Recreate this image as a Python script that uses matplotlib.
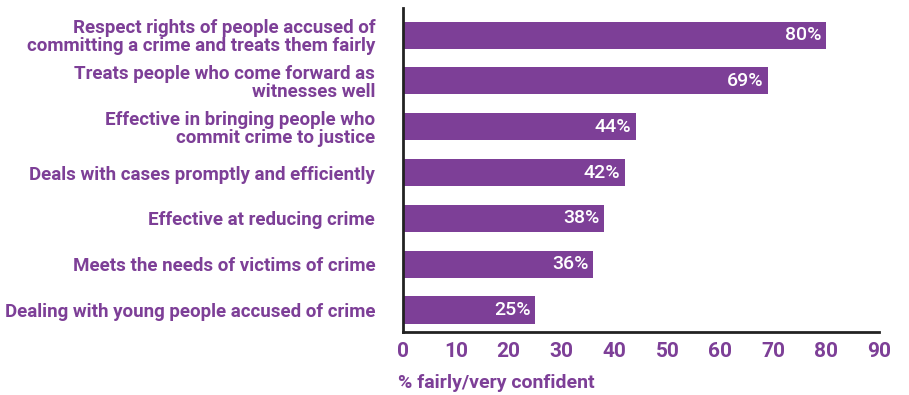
import matplotlib
matplotlib.use("Agg")
import matplotlib.pyplot as plt

# survey items, top to bottom as shown on the chart
labels = [
    "Respect rights of people accused of\ncommitting a crime and treats them fairly",
    "Treats people who come forward as\nwitnesses well",
    "Effective in bringing people who\ncommit crime to justice",
    "Deals with cases promptly and efficiently",
    "Effective at reducing crime",
    "Meets the needs of victims of crime",
    "Dealing with young people accused of crime",
]
values = [80, 69, 44, 42, 38, 36, 25]
xticks = [0, 10, 20, 30, 40, 50, 60, 70, 80, 90]

purple = "#7d3f97"
plt.rcParams['font.family'] = ['Roboto', 'Liberation Sans', 'DejaVu Sans']

fig = plt.figure(figsize=(9.09, 3.95), dpi=100)
ax = fig.add_axes([0.4433, 0.1595, 0.967 - 0.4433, 0.9797 - 0.1595])

# bottom-up positions so the first item sits on top
ypos = list(range(len(values)))[::-1]
ax.barh(ypos, values, height=0.59, color=purple)

for y, v in zip(ypos, values):
    ax.text(v - 0.9, y, f"{v}%", color="white", fontsize=14,
            fontweight="medium", ha="right", va="center")

ax.set_xlim(0, 90)
ax.set_ylim(-0.48, 6.59)
ax.set_xticks(xticks)
ax.set_xticklabels([str(t) for t in xticks], color=purple, fontsize=15,
                   fontweight="bold")
ax.tick_params(axis="x", length=0, pad=7)
ax.set_yticks(ypos)
ax.set_yticklabels(labels, color=purple, fontsize=13.5, fontweight="bold",
                   linespacing=1.0)
ax.tick_params(axis="y", length=0, pad=20)

for side in ["top", "right"]:
    ax.spines[side].set_visible(False)
for side in ["left", "bottom"]:
    ax.spines[side].set_linewidth(2)
    ax.spines[side].set_color("#222222")

fig.text(398 / 909, 1 - 383 / 395, "% fairly/very confident", color=purple,
         fontsize=14, fontweight="bold", ha="left", va="center")

fig.savefig("out.png", dpi=100)
